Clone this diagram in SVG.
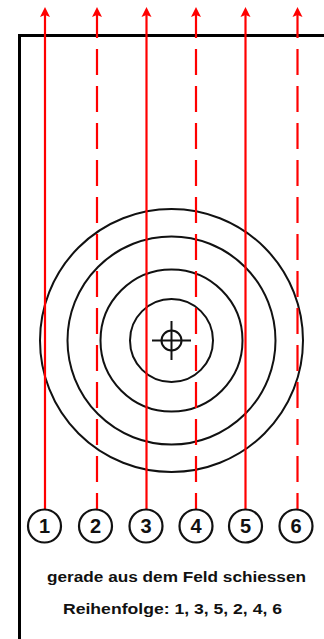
<svg xmlns="http://www.w3.org/2000/svg" width="324" height="639" viewBox="0 0 324 639">
<style>
.ring{fill:none;stroke:#111;stroke-width:2}
.shot{stroke:#f00;stroke-width:2.2;fill:none}
.dash{stroke-dasharray:26 11}
.head{fill:#f00}
.num{fill:#fff;stroke:#111;stroke-width:2.2}
.nt{font-family:"Liberation Sans",Arial,sans-serif;font-weight:bold;font-size:20px;fill:#111;text-anchor:middle}
.cap{font-family:"Liberation Sans",Arial,sans-serif;font-weight:bold;font-size:14.5px;fill:#111}
</style>
<rect width="324" height="639" fill="#fff"/>
<g id="frame">
<path d="M19.5,639 V35.5 H324" fill="none" stroke="#000" stroke-width="3"/>
</g>
<g id="target">
<circle class="ring" cx="171.5" cy="340.5" r="131.5"/>
<circle class="ring" cx="171.5" cy="340.5" r="104"/>
<circle class="ring" cx="171.5" cy="340.5" r="71"/>
<circle class="ring" cx="171.5" cy="340.5" r="41.5"/>
<circle class="ring" cx="171.5" cy="340.5" r="10"/>
<path d="M152,340.5 H191 M171.5,321 V360" stroke="#111" stroke-width="2"/>
</g>
<g id="connectors">
<line class="shot" x1="45" y1="510" x2="45" y2="14"/>
<line class="shot dash" x1="97" y1="12" x2="97" y2="510"/>
<line class="shot" x1="146.5" y1="510" x2="146.5" y2="14"/>
<line class="shot dash" x1="196" y1="12" x2="196" y2="510"/>
<line class="shot" x1="245.5" y1="510" x2="245.5" y2="14"/>
<line class="shot dash" x1="297.5" y1="12" x2="297.5" y2="510"/>
<path class="head" d="M45,7 L40,17 L45,15 L50,17 Z"/>
<path class="head" d="M97,7 L92,17 L97,15 L102,17 Z"/>
<path class="head" d="M146.5,7 L141.5,17 L146.5,15 L151.5,17 Z"/>
<path class="head" d="M196,7 L191,17 L196,15 L201,17 Z"/>
<path class="head" d="M245.5,7 L240.5,17 L245.5,15 L250.5,17 Z"/>
<path class="head" d="M297.5,7 L292.5,17 L297.5,15 L302.5,17 Z"/>
</g>
<g id="n1"><circle class="num" cx="44.5" cy="526" r="16.5"/><text class="nt" x="44.5" y="533">1</text></g>
<g id="n2"><circle class="num" cx="95.5" cy="526" r="16.5"/><text class="nt" x="95.5" y="533">2</text></g>
<g id="n3"><circle class="num" cx="146" cy="526" r="16.5"/><text class="nt" x="146" y="533">3</text></g>
<g id="n4"><circle class="num" cx="196" cy="526" r="16.5"/><text class="nt" x="196" y="533">4</text></g>
<g id="n5"><circle class="num" cx="245.5" cy="526" r="16.5"/><text class="nt" x="245.5" y="533">5</text></g>
<g id="n6"><circle class="num" cx="296" cy="526" r="16.5"/><text class="nt" x="296" y="533">6</text></g>
<g id="captions">
<text class="cap" x="47" y="582" textLength="259" lengthAdjust="spacingAndGlyphs">gerade aus dem Feld schiessen</text>
<text class="cap" x="63" y="614" textLength="219" lengthAdjust="spacingAndGlyphs">Reihenfolge: 1, 3, 5, 2, 4, 6</text>
</g>
</svg>
